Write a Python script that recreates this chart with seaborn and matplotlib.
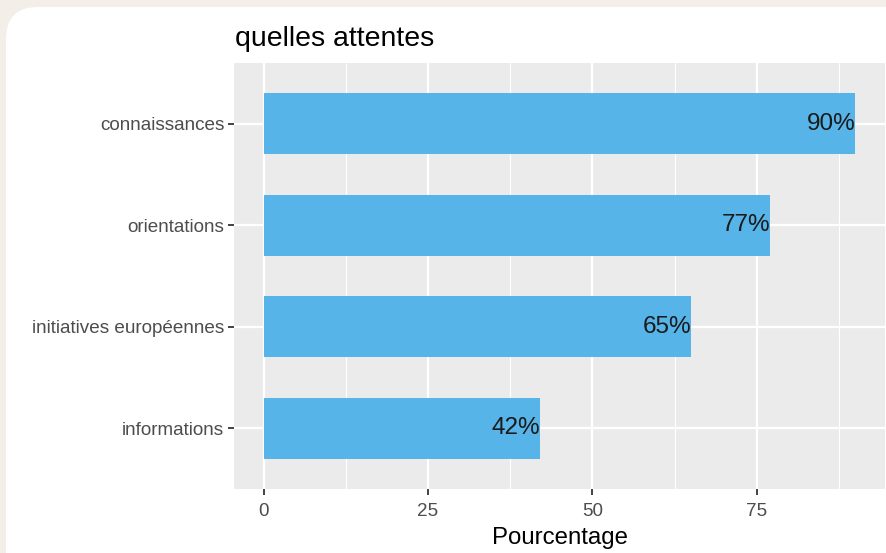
import matplotlib
matplotlib.use("Agg")
import matplotlib.pyplot as plt
from matplotlib.patches import FancyBboxPatch
from matplotlib.ticker import MultipleLocator
import seaborn as sns
import pandas as pd

categories = ["connaissances", "orientations", "initiatives européennes", "informations"]
values = [90, 77, 65, 42]
labels = ["90%", "77%", "65%", "42%"]
x_ticks = [0, 25, 50, 75]

sns.set_style("white")
plt.rcParams["font.family"] = ["Liberation Sans", "DejaVu Sans"]

W, H = 886, 553
fig = plt.figure(figsize=(W / 100, H / 100), dpi=100)
fig.patch.set_facecolor("#f3eee8")

# background card (pixel coordinates, y measured downward)
bg = fig.add_axes([0, 0, 1, 1], zorder=-5)
bg.set_xlim(0, W)
bg.set_ylim(H, 0)
bg.axis("off")
bg.add_patch(FancyBboxPatch((6, 7), 940, 620,
                            boxstyle="round,pad=0,rounding_size=32",
                            facecolor="white", edgecolor="none"))

left, right, top, bottom = 234, 885, 63, 489
ax = fig.add_axes([left / W, 1 - bottom / H, (right - left) / W, (bottom - top) / H], zorder=1)
ax.set_facecolor("#ebebeb")

df = pd.DataFrame({"cat": categories, "val": values})
sns.barplot(data=df, x="val", y="cat", orient="h", color="#56B4E9",
            saturation=1, width=0.6, ax=ax, zorder=3, linewidth=0, edgecolor="none")

for i, (v, lab) in enumerate(zip(values, labels)):
    ax.text(v, i, lab, ha="right", va="center", fontsize=17.5,
            color="#1a1a1a", zorder=4)

ax.set_xlim(-4.5, 94.5)
ax.set_ylim(3.6, -0.6)
ax.set_xticks(x_ticks)
ax.xaxis.set_minor_locator(MultipleLocator(12.5))
ax.grid(True, which="major", color="white", linewidth=1.6, zorder=0)
ax.grid(True, which="minor", axis="x", color="white", linewidth=0.8, zorder=0)
ax.set_axisbelow(True)
for s in ax.spines.values():
    s.set_visible(False)

ax.tick_params(axis="both", which="major", bottom=True, left=True, length=4,
               width=1.3, color="#333333", labelcolor="#4d4d4d", labelsize=13.6, pad=3)
ax.tick_params(axis="x", which="major", pad=6)
ax.tick_params(axis="x", which="minor", length=0)
ax.set_ylabel("")
ax.set_xlabel("Pourcentage", fontsize=17.3, color="black", labelpad=5)

fig.text(235 / W, 1 - 46 / H, "quelles attentes", fontsize=20.5,
         color="black", ha="left", va="baseline")

fig.savefig("out.png", dpi=100, facecolor=fig.get_facecolor())
